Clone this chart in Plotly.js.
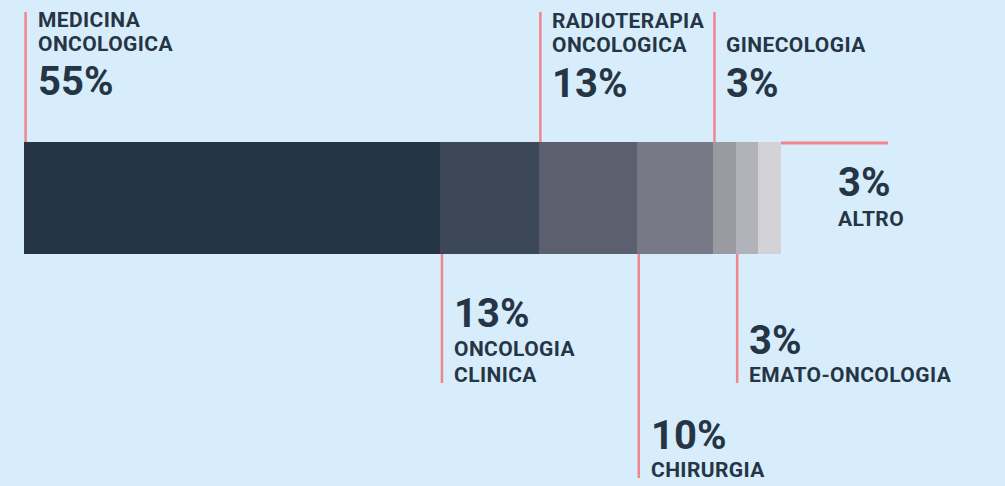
<!DOCTYPE html>
<html>
<head>
<meta charset="utf-8">
<script src="https://cdn.plot.ly/plotly-3.0.1.min.js"></script>
<style>
html,body{margin:0;padding:0;background:#d7edfb;}
#chart{width:1005px;height:486px;}
</style>
</head>
<body>
<div id="chart"></div>
<script>
// ---- data ----
var categories = ['MEDICINA ONCOLOGICA', 'ONCOLOGIA CLINICA', 'RADIOTERAPIA ONCOLOGICA', 'CHIRURGIA', 'GINECOLOGIA', 'EMATO-ONCOLOGIA', 'ALTRO'];
var values = [55, 13, 13, 10, 3, 3, 3];
var nameLines = [['MEDICINA', 'ONCOLOGICA'], ['ONCOLOGIA', 'CLINICA'], ['RADIOTERAPIA', 'ONCOLOGICA'], ['CHIRURGIA'], ['GINECOLOGIA'], ['EMATO-ONCOLOGIA'], ['ALTRO']];
var colors = ['#253545', '#3c4857', '#5a606e', '#777986', '#9a9aa3', '#b2b2bb', '#d2d2d7'];

// ---- layout helpers (pixel placement of callouts) ----
var BG = '#d7edfb', INK = '#263545', PINK = '#f0868b';
var NAME_SIZE = 21, PCT_SIZE = 40;
var place = [
  {side: 'top', line: [12, 142], names: [12, 36], pct: 66},
  {side: 'bottom', line: [254, 383], names: [341, 367], pct: 298},
  {side: 'top', line: [12, 142], names: [13, 37], pct: 68},
  {side: 'bottom', line: [254, 478], names: [462], pct: 420},
  {side: 'top', line: [12, 142], names: [37], pct: 68},
  {side: 'bottom', line: [254, 383], names: [367], pct: 325},
  {side: 'right', lineY: 143, lineEnd: 888, textX: 837, names: [211], pct: 167}
];

// x axis range so that 0..100 spans pixels 24..781 of a 1005px plot
var pxStart = 24, pxEnd = 781, W = 1005, H = 486;
var span = 100 * W / (pxEnd - pxStart);
var r0 = -pxStart * span / W;
var r1 = r0 + span;
var pxPerUnit = (pxEnd - pxStart) / 100;
function pxToX(px) { return r0 + px / W * span; }
function shiftX(v, dpx) { return v + dpx / pxPerUnit; }

var traces = categories.map(function (c, i) {
  return {
    type: 'bar', orientation: 'h',
    x: [values[i]], y: [198], width: [112],
    name: c,
    marker: {color: colors[i], line: {width: 0}},
    hoverinfo: 'skip'
  };
});

var shapes = [], annotations = [];
var cum = 0;
var CAP_OFF_NAME = 5, CAP_OFF_PCT = 9;
categories.forEach(function (c, i) {
  var start = cum;
  cum += values[i];
  var p = place[i];
  var tx;
  if (p.side === 'right') {
    shapes.push({type: 'line', xref: 'x', yref: 'y', x0: cum, x1: pxToX(p.lineEnd), y0: p.lineY, y1: p.lineY,
      line: {color: PINK, width: 3}});
    tx = pxToX(p.textX);
  } else {
    var lx = shiftX(start, 1.6);
    shapes.push({type: 'line', xref: 'x', yref: 'y', x0: lx, x1: lx, y0: p.line[0], y1: p.line[1],
      line: {color: PINK, width: 2.5}});
    tx = shiftX(start, 12.5);
  }
  nameLines[i].forEach(function (t, k) {
    annotations.push({xref: 'x', yref: 'y', x: tx, y: p.names[k] - CAP_OFF_NAME, xanchor: 'left', yanchor: 'top',
      text: '<span style="letter-spacing:0.4px"><b>' + t + '</b></span>', showarrow: false, borderpad: 0,
      font: {family: 'Roboto', size: NAME_SIZE, color: INK}});
  });
  annotations.push({xref: 'x', yref: 'y', x: shiftX(tx, 0), y: p.pct - CAP_OFF_PCT, xanchor: 'left', yanchor: 'top',
    text: '<b>' + values[i] + '%</b>', showarrow: false, borderpad: 0,
    font: {family: 'Roboto', size: PCT_SIZE, color: INK}});
});

var layout = {
  width: W, height: H,
  margin: {l: 0, r: 0, t: 0, b: 0, pad: 0},
  paper_bgcolor: BG, plot_bgcolor: BG,
  barmode: 'stack', bargap: 0,
  showlegend: false,
  xaxis: {range: [r0, r1], visible: false, fixedrange: true},
  yaxis: {range: [H, 0], visible: false, fixedrange: true},
  shapes: shapes,
  annotations: annotations
};

Plotly.newPlot('chart', traces, layout, {displayModeBar: false, staticPlot: true});
</script>
</body>
</html>
